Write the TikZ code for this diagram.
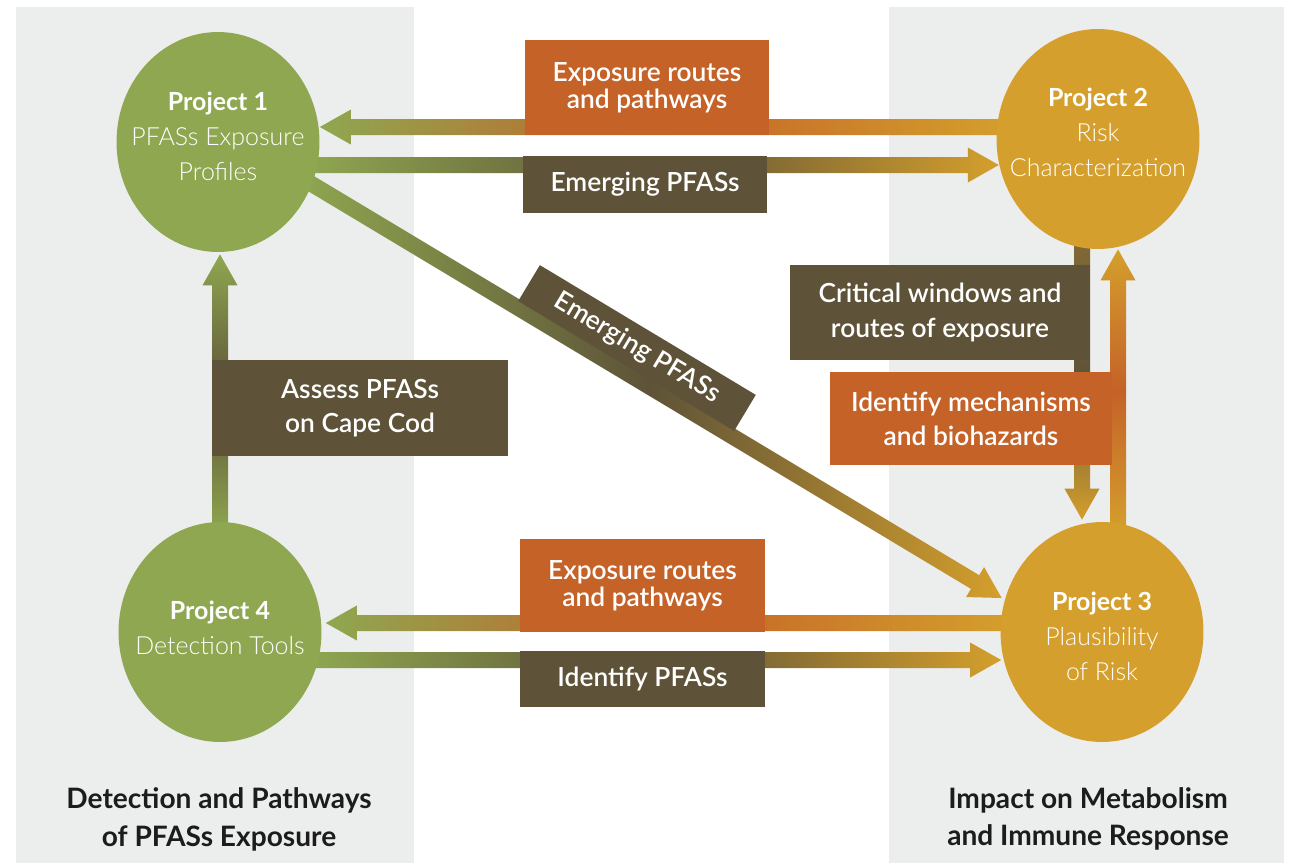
\documentclass[tikz,border=0pt]{standalone}
\usepackage{fontspec}
\setmainfont{Lato}
\newfontfamily\thinfont{Lato Light}
\newfontfamily\semifont{Lato Semibold}
\usetikzlibrary{calc,shapes.geometric}

\definecolor{pgreen}{RGB}{143,167,80}
\definecolor{pgold}{RGB}{212,159,44}
\definecolor{porange}{RGB}{196,98,40}
\definecolor{pdark}{RGB}{94,83,56}
\definecolor{pgray}{RGB}{236,237,237}
\definecolor{ink}{RGB}{28,28,28}

\pgfdeclarelayer{panels}
\pgfdeclarelayer{bars}
\pgfsetlayers{panels,bars,main}

% wide bar with a triangular head, from #2 to #3
\newcommand\barhw{0.16cm}
\newcommand\headhw{0.35cm}
\newcommand\headlen{0.62cm}
\newcommand\fatarrow[3][]{%
  \coordinate (fa-s) at #2;
  \coordinate (fa-t) at #3;
  \coordinate (fa-h) at ($(fa-t)!\headlen!(fa-s)$);
  \path[#1] ($(fa-s)!\barhw!90:(fa-t)$) -- ($(fa-h)!\barhw!90:(fa-t)$)
    -- ($(fa-h)!\headhw!90:(fa-t)$) -- (fa-t)
    -- ($(fa-h)!\headhw!-90:(fa-t)$) -- ($(fa-h)!\barhw!-90:(fa-t)$)
    -- ($(fa-s)!\barhw!-90:(fa-t)$) -- cycle;
}

\begin{document}
\begin{tikzpicture}[x=0.02cm, y=-0.02cm,
  project/.style={ellipse, minimum width=4.06cm, minimum height=4.4cm, inner sep=0pt},
  projtext/.style={text=white, align=center, inner sep=0pt, font=\thinfont\fontsize{14.2}{20}\selectfont},
  tag/.style={inner sep=0pt, text=white, align=center,
    font=\semifont\fontsize{15}{19.5}\selectfont},
  darktag/.style={tag, fill=pdark},
  orangetag/.style={tag, fill=porange, font=\semifont\fontsize{15}{15.5}\selectfont},
  caption/.style={align=center, text=ink, font=\bfseries\fontsize{16}{21.5}\selectfont}]
\useasboundingbox (0,0) rectangle (1291,863);

\begin{pgfonlayer}{panels}
\fill[pgray] (16,7) rectangle (414,863);
\fill[pgray] (889,7) rectangle (1284,863);
\end{pgfonlayer}

\node[project, fill=pgreen, label={[projtext, yshift=0.12cm]center:{{\normalfont\bfseries Project 1}\\PFASs Exposure\\Profiles}}] (p1) at (218,142) {};
\node[project, fill=pgold, label={[projtext, yshift=0.14cm]center:{{\normalfont\bfseries Project 2}\\Risk\\Characterization}}] (p2) at (1098,139) {};
\node[project, fill=pgold, label={[projtext, yshift=-0.08cm]center:{{\normalfont\bfseries Project 3}\\Plausibility\\of Risk}}] (p3) at (1102,632) {};
\node[project, fill=pgreen, label={[projtext, yshift=0.08cm]center:{{\normalfont\bfseries Project 4}\\Detection Tools}}] (p4) at (220,632) {};

\begin{pgfonlayer}{bars}
\fatarrow[left color=pgreen, right color=pgold, middle color=porange]{($(p2.west)+(12,-12)$)}{($(p1.east)+(0,-15)$)}
\fatarrow[left color=pgreen, right color=pgold, middle color=pdark]{($(p1.east)+(-12,23)$)}{($(p1.east |- p2.west)+(679,26)$)}
\fatarrow[left color=pgreen, right color=pgold, middle color=pdark]{($(p1.center)+(82,35)$)}{($(p3.west)+(1.5,-34)$)}
\fatarrow[left color=pgreen, right color=pgold, middle color=porange]{($(p3.west)+(12,-9)$)}{($(p4.east)+(4,-9)$)}
\fatarrow[left color=pgreen, right color=pgold, middle color=pdark]{($(p4.east)+(-12,28)$)}{($(p3.west)+(1,28)$)}
\fatarrow[top color=pgreen, bottom color=pgreen, middle color=pdark]{($(p4.north)+(0,12)$)}{($(p1.south)+(2,2)$)}
\fatarrow[top color=pdark!70!pgold, bottom color=pgold, middle color=pdark]{($(p2.south)+(-16,-12)$)}{($(p3.north)+(-20,-2)$)}
\fatarrow[top color=pgold, bottom color=pgold, middle color=porange]{($(p3.north)+(16,10)$)}{($(p2.south)+(20,0)$)}
\end{pgfonlayer}

\node[orangetag, minimum width=4.88cm, minimum height=1.9cm] (expT) at (647,87.5) {Exposure routes\\and pathways};
\node[darktag, minimum width=4.88cm, minimum height=1.14cm] (emgT) at (645,184.5) {Emerging PFASs};
\node[darktag, rotate=-31, minimum width=5.04cm, minimum height=0.84cm] (emgD) at (637,348) {Emerging PFASs};
\node[orangetag, minimum width=4.9cm, minimum height=1.86cm] (expB) at (642.5,585.5) {Exposure routes\\and pathways};
\node[darktag, minimum width=4.9cm, minimum height=1.12cm] (idB) at (642.5,679) {Identify PFASs};
\node[darktag, minimum width=5.92cm, minimum height=1.92cm] (assess) at (360,408) {Assess PFASs\\on Cape Cod};
\node[darktag, minimum width=6cm, minimum height=1.9cm] (crit) at (940,312.5) {Critical windows and\\routes of exposure};
\node[orangetag, font=\semifont\fontsize{15}{19.5}\selectfont, minimum width=5.64cm, minimum height=1.86cm] (mech) at (971,418.5) {Identify mechanisms\\and biohazards};

\node[caption] (left) at (219,819) {Detection and Pathways\\of PFASs Exposure};
\node[caption] (right) at (1088,819) {Impact on Metabolism\\and Immune Response};
\end{tikzpicture}
\end{document}
